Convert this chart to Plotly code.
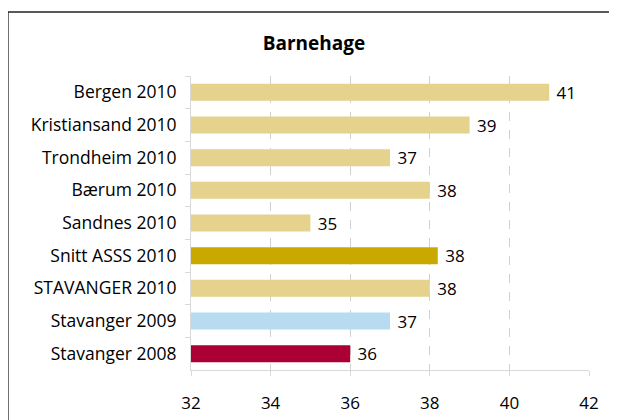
import plotly.graph_objects as go

categories = ["Bergen 2010", "Kristiansand 2010", "Trondheim 2010", "Bærum 2010",
              "Sandnes 2010", "Snitt ASSS 2010", "STAVANGER 2010",
              "Stavanger 2009", "Stavanger 2008"]
values = [41.0, 39.0, 37.0, 38.0, 35.0, 38.2, 38.0, 37.0, 36.0]
colors = ["#E5D28C", "#E5D28C", "#E5D28C", "#E5D28C", "#E5D28C",
          "#C9A800", "#E5D28C", "#B7DCF2", "#AA0033"]
x_ticks = [32, 34, 36, 38, 40, 42]

FONT = "Open Sans, Calibri, Carlito, sans-serif"

# page body has an 8px margin, so the figure is sized/offset to compensate
W, H = 609, 412
L, R, T, B = 183, 28, 68, 50
PW, PH = W - L - R, H - T - B

fig = go.Figure(go.Bar(
    y=categories, x=values, orientation="h",
    marker=dict(color=colors, line=dict(width=0)),
    width=0.52,
    text=[f" {v:.0f}" for v in values],
    textposition="outside",
    constraintext="none",
    textfont=dict(size=17, color="#000000", family=FONT),
    cliponaxis=False,
))

fig.update_layout(
    width=W, height=H,
    margin=dict(l=L, r=R, t=T, b=B, autoexpand=False),
    paper_bgcolor="white", plot_bgcolor="white",
    showlegend=False,
    font=dict(family=FONT, size=16, color="#000000"),
    title=dict(text="<b>Barnehage</b>", x=306 / W, xref="container", xanchor="center",
               y=1 - 35 / H, yref="container", yanchor="middle",
               font=dict(size=19, family=FONT, color="#000000")),
    xaxis=dict(range=[32, 42], tickvals=x_ticks, ticktext=[str(t) for t in x_ticks],
               showgrid=True, gridcolor="#D0D0D0", griddash="dash", gridwidth=1,
               showline=True, linecolor="#D9D9D9", linewidth=1,
               ticks="outside", ticklen=5, tickcolor="#D9D9D9",
               ticklabelstandoff=13, zeroline=False,
               tickfont=dict(size=17, family=FONT)),
    yaxis=dict(categoryorder="array", categoryarray=categories, autorange="reversed",
               showgrid=False, showline=True, linecolor="#D9D9D9", linewidth=1,
               ticks="outside", ticklen=5, tickcolor="#D9D9D9", tickson="boundaries",
               ticklabelstandoff=10,
               tickfont=dict(size=17.5, family=FONT)),
)

# chart frame (cropped): only top and left edges are visible
frame = dict(color="#222222", width=1.3)
y_top = 1 + (T - 4) / PH
x_left = (0 - L) / PW
x_right = (W - L) / PW
fig.add_shape(type="line", xref="paper", yref="paper",
              x0=x_left, x1=x_right, y0=y_top, y1=y_top, line=frame, layer="below")
fig.add_shape(type="line", xref="paper", yref="paper",
              x0=x_left, x1=x_left, y0=-(B / PH), y1=y_top, line=frame, layer="below")

fig.write_html("out.html")
